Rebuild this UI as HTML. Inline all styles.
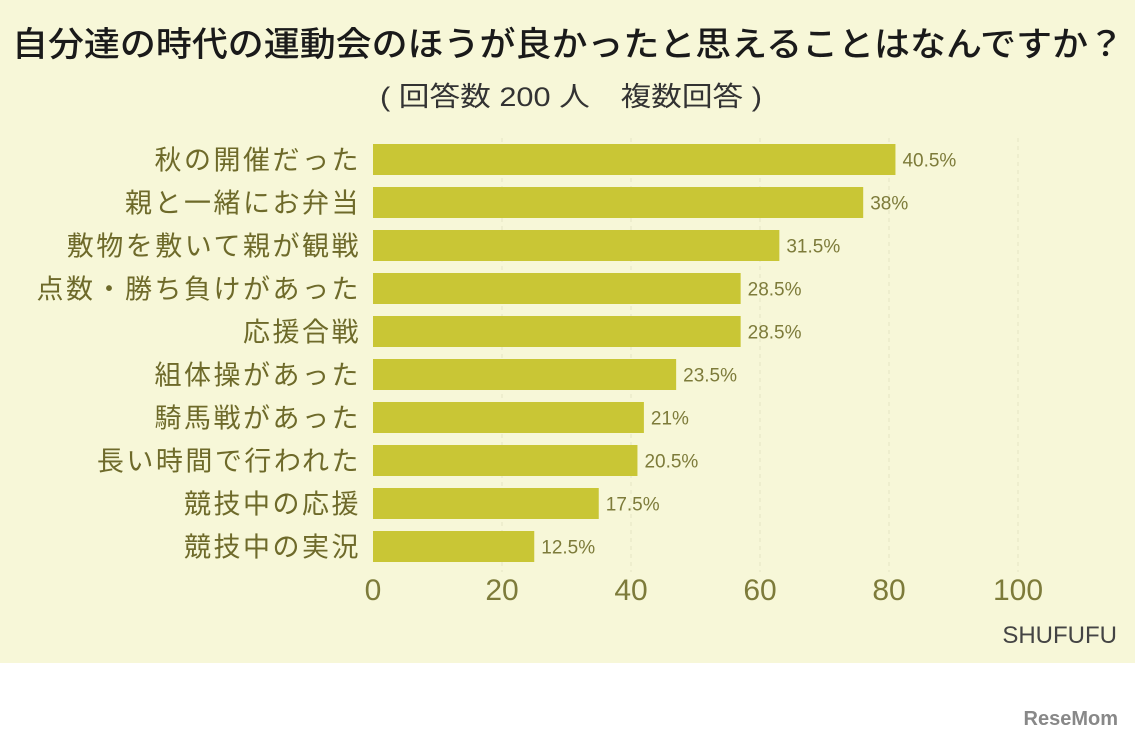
<!DOCTYPE html>
<html><head><meta charset="utf-8">
<style>
body{margin:0;width:1135px;height:739px;background:#fff;overflow:hidden;font-family:"Liberation Sans","Noto Sans CJK JP",sans-serif;}
#bg{position:absolute;left:0;top:0;width:1135px;height:663px;background:#f7f7d8;}
svg{position:absolute;left:0;top:0;}
</style></head><body>
<div id="bg"></div>
<svg id="chart" width="1135" height="739">
<text x="12" y="56" textLength="1112" lengthAdjust="spacingAndGlyphs" font-size="34" fill="#1a1a1a" font-weight="500" font-family="Liberation Sans, Noto Sans CJK JP, sans-serif">自分達の時代の運動会のほうが良かったと思えることはなんですか？</text>
<text x="380" y="106" textLength="382" lengthAdjust="spacingAndGlyphs" font-size="27" fill="#333" font-family="Liberation Sans, Noto Sans CJK JP, sans-serif">( 回答数 200 人　複数回答 )</text>
<text x="1117" y="643" text-anchor="end" font-size="24" fill="#444" font-family="Liberation Sans, sans-serif">SHUFUFU</text>
<text x="1118" y="725" text-anchor="end" font-size="20" font-weight="bold" fill="#888" font-family="Liberation Sans, sans-serif">ReseMom</text>
</svg>
<script>
const categories=["秋の開催だった","親と一緒にお弁当","敷物を敷いて親が観戦","点数・勝ち負けがあった","応援合戦","組体操があった","騎馬戦があった","長い時間で行われた","競技中の応援","競技中の実況"];
const counts=[81,76,63,57,57,47,42,41,35,25];
const percentLabels=["40.5%","38%","31.5%","28.5%","28.5%","23.5%","21%","20.5%","17.5%","12.5%"];
const ticks=[0,20,40,60,80,100];
const NS="http://www.w3.org/2000/svg";
const svg=document.getElementById('chart');
const x0=373,pxPer=6.45,rowTop=144,rowStep=43,barH=31;
const xs=v=>x0+v*pxPer;
const ys=i=>rowTop+i*rowStep;
function mk(tag,attrs){const e=document.createElementNS(NS,tag);for(const k in attrs)e.setAttribute(k,attrs[k]);svg.appendChild(e);return e;}
ticks.forEach(t=>{
  if(t>0){const g=mk('line',{x1:xs(t),x2:xs(t),y1:138,y2:572,stroke:'#e4e4c4','stroke-dasharray':'4,4','stroke-width':1});
  
  }
  const tl=mk('text',{x:xs(t),y:600,'text-anchor':'middle','font-size':30,fill:'#7d7b3a'});
  tl.textContent=t;
  
  
});
categories.forEach((c,i)=>{
  const y=ys(i);
  const r=mk('rect',{x:x0,y:y,width:counts[i]*pxPer,height:barH,fill:'#c9c635'});
  
  
  const l=mk('text',{x:361,y:y+barH/2+10,'text-anchor':'end','font-size':27,'letter-spacing':'2.5',fill:'#6e6a2a'});
  l.textContent=c;
  
  
  const v=mk('text',{x:xs(counts[i])+7,y:y+barH/2+7,'font-size':19,fill:'#7d7b3a'});
  v.textContent=percentLabels[i];
  
  
});
</script>
</body></html>
